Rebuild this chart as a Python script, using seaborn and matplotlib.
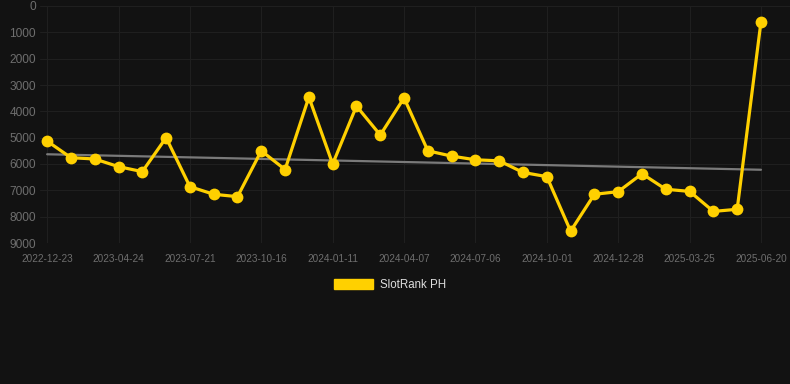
import numpy as np
import pandas as pd
import matplotlib
matplotlib.use("Agg")
import matplotlib.pyplot as plt
import seaborn as sns
from matplotlib.patches import Patch

# ---- data ----
tick_labels = ["2022-12-23", "2023-04-24", "2023-07-21", "2023-10-16", "2024-01-11",
               "2024-04-07", "2024-07-06", "2024-10-01", "2024-12-28", "2025-03-25",
               "2025-06-20"]
rank_values = [5130, 5760, 5810, 6100, 6290, 5000, 6860, 7150, 7240, 5500,
               6210, 3460, 6000, 3800, 4900, 3490, 5500, 5700, 5840, 5880,
               6320, 6480, 8550, 7150, 7050, 6370, 6960, 7040, 7800, 7720,
               600]
series_name = "SlotRank PH"
y_ticks = [0, 1000, 2000, 3000, 4000, 5000, 6000, 7000, 8000, 9000]

BG = "#121212"
YELLOW = "#FFD000"
GRID = "#1f1f1f"
TICK = "#6e6e6e"

sns.set_theme(style="dark", rc={
    "figure.facecolor": BG,
    "axes.facecolor": BG,
    "axes.edgecolor": BG,
    "grid.color": GRID,
    "text.color": "#dddddd",
})
plt.rcParams["font.family"] = ["Liberation Sans", "DejaVu Sans"]

df = pd.DataFrame({"idx": np.arange(len(rank_values)), "rank": rank_values})

fig = plt.figure(figsize=(7.9, 3.84), dpi=100)
ax = fig.add_axes([40 / 790, 1 - 243 / 384, 750 / 790, (243 - 6) / 384])

sns.regplot(data=df, x="idx", y="rank", ax=ax, scatter=False, ci=None,
            line_kws={"color": "#7a7a7a", "lw": 1.6, "zorder": 2})
sns.lineplot(data=df, x="idx", y="rank", ax=ax, color=YELLOW, lw=2.3,
             marker="o", markersize=8.5, markeredgewidth=0, zorder=3,
             label=series_name, legend=False)

ax.set_xlim(-0.3, 31.22)
ax.set_ylim(9000, 0)
ax.set_yticks(y_ticks)
ax.set_yticklabels([str(v) for v in y_ticks])
ax.set_xticks(np.arange(0, len(rank_values), 3))
ax.set_xticklabels(tick_labels)
ax.grid(True, color=GRID, lw=0.8)
ax.set_axisbelow(True)
ax.tick_params(axis="y", length=0, pad=3, labelsize=8.6, labelcolor=TICK)
ax.tick_params(axis="x", length=0, pad=8, labelsize=7.2, labelcolor=TICK)
ax.set_xlabel("")
ax.set_ylabel("")
for s in ax.spines.values():
    s.set_visible(False)

handle = Patch(facecolor=YELLOW, edgecolor=YELLOW)
fig.legend([handle], [series_name], loc="center", bbox_to_anchor=(0.494, 0.258),
           frameon=False, fontsize=8.3, handlelength=3.4, handleheight=1.0,
           handletextpad=0.6, labelcolor="#dddddd")

fig.savefig("out.png", dpi=100, facecolor=BG)
